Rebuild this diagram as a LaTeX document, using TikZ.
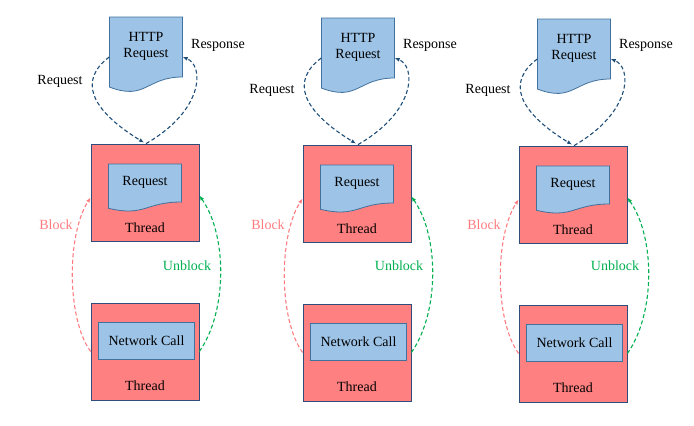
\documentclass[tikz,border=0pt]{standalone}
\usepackage{fontspec}
\setmainfont{Liberation Serif}
\usetikzlibrary{arrows.meta}

\definecolor{threadred}{HTML}{FF8080}
\definecolor{threadblue}{HTML}{2E4D7B}
\definecolor{docfill}{HTML}{9DC3E6}
\definecolor{docblue}{HTML}{41719C}
\definecolor{arrowblue}{HTML}{1F4E79}
\definecolor{blockred}{HTML}{FF7C80}
\definecolor{unblockgreen}{HTML}{00B050}

% document shape: centre x, top y, width, height of the straight part, wave
\newcommand{\docshape}[5]{%
  \draw[docline] (#1-#3/2,#2) -- (#1+#3/2,#2) -- (#1+#3/2,#2+#4)
    .. controls (#1,#2+#4) and (#1,#2+#4+#5) .. (#1-#3/2,#2+#4+0.42*#5) -- cycle;}

\tikzset{
  threadbox/.style={draw=threadblue, fill=threadred, line width=0.8pt,
    minimum width=108pt, minimum height=97pt, inner sep=0pt},
  docline/.style={draw=docblue, fill=docfill, line width=0.8pt},
  doctext/.style={minimum width=73pt, inner sep=0pt, align=center},
  callbox/.style={draw=docblue, fill=docfill, line width=0.8pt,
    minimum width=96pt, minimum height=37pt, inner sep=0pt},
  dasharrow/.style={line width=1.1pt, dash pattern=on 4pt off 2.5pt,
    -{Latex[length=5pt,width=4pt]}},
  reqarrow/.style={dasharrow, draw=arrowblue},
  blockarrow/.style={dasharrow, draw=blockred},
  unblockarrow/.style={dasharrow, draw=unblockgreen},
}

\begin{document}
\begin{tikzpicture}[x=1pt, y=-1pt, font=\fontsize{14}{16}\selectfont]
  \useasboundingbox (0,0) rectangle (694,426);

  \foreach \n/\c/\d/\ry in {1/145/0/81, 2/357/1/90, 3/573/2/90} {
    % HTTP request
    \docshape{\c+1}{17+\d}{73}{60}{24}
    \node[doctext, minimum height=60pt] (h\n) at (\c+1,46+\d) {HTTP\\Request};

    % thread with the request
    \node[threadbox] (t\n) at (\c,192.5+\d) {};
    \node (tl\n) at (\c,228+\d) {Thread};
    \docshape{\c}{164+\d}{73}{38}{15}
    \node[doctext, minimum height=38pt] (r\n) at (\c,182+\d) {Request};

    % thread with the network call
    \node[threadbox] (n\n) at (\c,351.5+\d) {};
    \node[callbox] (nc\n) at (\c+1.5,341+\d) {Network Call};
    \node (nl\n) at (\c,386+\d) {Thread};

    % connectors
    \draw[reqarrow] ([yshift=-11pt]h\n.west) .. controls +(-31,23) and +(-54,-33) .. ([xshift=-1pt,yshift=1pt]t\n.north);
    \draw[reqarrow] ([xshift=1pt]t\n.north) .. controls +(59,-34) and +(21,8) .. ([yshift=-11pt]h\n.east);
    \draw[blockarrow] (n\n.west) .. controls +(-24,-33) and +(-24,37) .. ([yshift=-5pt]t\n.west);
    \draw[unblockarrow] (n\n.east) .. controls +(28,-40) and +(28,40) .. ([yshift=-3pt]t\n.east);

    \node (rq\n) at (\c-85,\ry) {Request};
    \node (rs\n) at (\c+73,45) {Response};
    \node[text=blockred] (bl\n) at (\c-89,225) {Block};
    \node[text=unblockgreen] (ub\n) at (\c+42,266) {Unblock};
  }
\end{tikzpicture}
\end{document}
